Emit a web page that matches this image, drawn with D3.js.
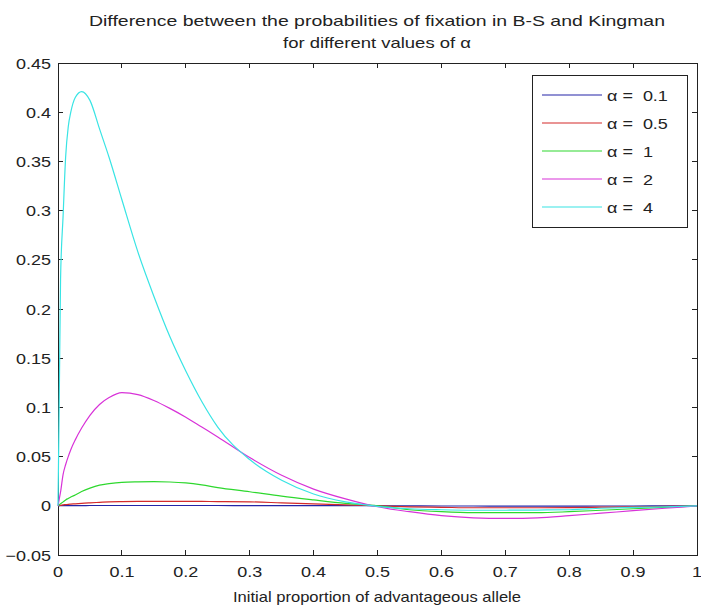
<!DOCTYPE html>
<html>
<head>
<meta charset="utf-8">
<script src="https://cdn.jsdelivr.net/npm/d3@7"></script>
<style>
  html, body { margin: 0; padding: 0; background: #fff; }
  svg { display: block; }
  text { font-family: "Liberation Sans", Arial, Helvetica, sans-serif; fill: #222; }
</style>
</head>
<body>
<svg id="chart" width="701" height="607"></svg>
<script>
/* ---------- Data ---------- */
const xGrid = [0, 0.002, 0.004, 0.008, 0.012, 0.016, 0.02, 0.027, 0.037, 0.05, 0.065, 0.08,
  0.1, 0.125, 0.15, 0.175, 0.2, 0.225, 0.25, 0.3, 0.35, 0.4, 0.45, 0.5,
  0.55, 0.6, 0.65, 0.7, 0.75, 0.8, 0.85, 0.9, 0.95, 1.0];

const alpha01 = [0, 0, 0.0001, 0.0001, 0.0001, 0.0002, 0.0002, 0.0002, 0.0002, 0.0003, 0.0003, 0.0003,
  0.0003, 0.0003, 0.0003, 0.0003, 0.0003, 0.0003, 0.0003, 0.0002, 0.0002, 0.0001, 0.0001, 0,
  -0.0001, -0.0002, -0.0002, -0.0003, -0.0003, -0.0003, -0.0002, -0.0002, -0.0001, 0];

const alpha05 = [0, 0.0003, 0.0005, 0.001, 0.0012, 0.0015, 0.0017, 0.002, 0.0025, 0.003, 0.0035, 0.004,
  0.0043, 0.0045, 0.0045, 0.0045, 0.0045, 0.0044, 0.0043, 0.004, 0.003, 0.002, 0.001, 0,
  -0.001, -0.0015, -0.002, -0.002, -0.002, -0.0018, -0.0014, -0.001, -0.0005, 0];

const alpha1 = [0, 0.001, 0.002, 0.004, 0.006, 0.0075, 0.009, 0.011, 0.0145, 0.018, 0.021, 0.0225,
  0.0238, 0.0243, 0.0245, 0.0242, 0.0232, 0.0212, 0.0185, 0.0143, 0.0098, 0.0060, 0.0025, 0,
  -0.004, -0.006, -0.007, -0.007, -0.007, -0.006, -0.0045, -0.003, -0.0015, 0];

const alpha2 = [0, 0.007, 0.014, 0.032, 0.042, 0.050, 0.057, 0.067, 0.079, 0.092, 0.103, 0.110,
  0.115, 0.113, 0.107, 0.099, 0.090, 0.080, 0.070, 0.049, 0.031, 0.017, 0.007, -0.001,
  -0.006, -0.010, -0.0122, -0.0128, -0.0122, -0.010, -0.0075, -0.005, -0.0025, 0];

const alpha4 = [0, 0.11, 0.23, 0.295, 0.355, 0.385, 0.400, 0.415, 0.421, 0.412, 0.383, 0.354,
  0.311, 0.258, 0.213, 0.172, 0.137, 0.106, 0.080, 0.047, 0.026, 0.012, 0.004, -0.0005,
  -0.003, -0.004, -0.0045, -0.0045, -0.0043, -0.004, -0.0025, -0.0015, -0.001, 0];

const seriesNames = ['\u03b1 =  0.1', '\u03b1 =  0.5', '\u03b1 =  1', '\u03b1 =  2', '\u03b1 =  4'];
const seriesValues = [alpha01, alpha05, alpha1, alpha2, alpha4];
const seriesColors = ['#2424a8', '#d42a2a', '#2ed82e', '#d832d8', '#38e4e4'];

const xTicks = [0, 0.1, 0.2, 0.3, 0.4, 0.5, 0.6, 0.7, 0.8, 0.9, 1];
const yTicks = [-0.05, 0, 0.05, 0.1, 0.15, 0.2, 0.25, 0.3, 0.35, 0.4, 0.45];

const titleLines = ['Difference between the probabilities of fixation in B-S and Kingman',
  'for different values of \u03b1'];
const xLabel = 'Initial proportion of advantageous allele';

/* ---------- Layout ---------- */
const svg = d3.select('#chart');
const plot = { left: 58, right: 697, top: 63, bottom: 555 };
const fontSize = 15;
const stretch = 1.2;   // reference text is horizontally wide

const x = d3.scaleLinear().domain([0, 1]).range([plot.left, plot.right]);
const y = d3.scaleLinear().domain([-0.05, 0.45]).range([plot.bottom, plot.top]);

// stretched text helper
function label(g, tx, ty, str, anchor) {
  return g.append('text')
    .attr('transform', `translate(${tx},${ty}) scale(${stretch},1)`)
    .attr('text-anchor', anchor)
    .attr('font-size', fontSize)
    .style('white-space', 'pre')
    .text(str);
}

// ---------- Title ----------
svg.append('text')
  .attr('x', 377).attr('y', 26)
  .attr('text-anchor', 'middle')
  .attr('font-size', fontSize)
  .attr('textLength', 576).attr('lengthAdjust', 'spacingAndGlyphs')
  .text(titleLines[0]);
svg.append('text')
  .attr('x', 377).attr('y', 48)
  .attr('text-anchor', 'middle')
  .attr('font-size', fontSize)
  .attr('textLength', 188).attr('lengthAdjust', 'spacingAndGlyphs')
  .text(titleLines[1]);

// ---------- Axes (MATLAB box, ticks inward) ----------
const axisG = svg.append('g').attr('stroke', '#222').attr('stroke-width', 1)
  .attr('shape-rendering', 'crispEdges');

axisG.append('rect')
  .attr('x', plot.left).attr('y', plot.top)
  .attr('width', plot.right - plot.left).attr('height', plot.bottom - plot.top)
  .attr('fill', 'none');

const tl = 5;
xTicks.forEach(t => {
  axisG.append('line').attr('x1', x(t)).attr('x2', x(t)).attr('y1', plot.bottom).attr('y2', plot.bottom - tl);
  axisG.append('line').attr('x1', x(t)).attr('x2', x(t)).attr('y1', plot.top).attr('y2', plot.top + tl);
});
yTicks.forEach(t => {
  axisG.append('line').attr('x1', plot.left).attr('x2', plot.left + tl).attr('y1', y(t)).attr('y2', y(t));
  axisG.append('line').attr('x1', plot.right).attr('x2', plot.right - tl).attr('y1', y(t)).attr('y2', y(t));
});

const tickG = svg.append('g');
xTicks.forEach(t => label(tickG, x(t), 577, d3.format('')(t), 'middle'));
yTicks.forEach(t => label(tickG, plot.left - 7, y(t) + 5.5, d3.format('')(t), 'end'));

svg.append('text')
  .attr('x', 377).attr('y', 602)
  .attr('text-anchor', 'middle')
  .attr('font-size', fontSize)
  .attr('textLength', 288).attr('lengthAdjust', 'spacingAndGlyphs')
  .text(xLabel);

// ---------- Lines ----------
const line = d3.line()
  .x((d, i) => x(xGrid[i]))
  .y(d => y(d))
  .curve(d3.curveMonotoneX);

svg.append('g').selectAll('path')
  .data(seriesValues)
  .join('path')
  .attr('d', d => line(d))
  .attr('fill', 'none')
  .attr('stroke', (d, i) => seriesColors[i])
  .attr('stroke-width', 1.2);

// ---------- Legend ----------
const legend = svg.append('g');
legend.append('rect')
  .attr('x', 532).attr('y', 75).attr('width', 155).attr('height', 152)
  .attr('fill', '#fff').attr('stroke', '#222').attr('stroke-width', 1)
  .attr('shape-rendering', 'crispEdges');

const rowY = d3.scalePoint().domain(d3.range(seriesNames.length)).range([95, 207]);
seriesNames.forEach((name, i) => {
  legend.append('line')
    .attr('x1', 542).attr('x2', 602)
    .attr('y1', rowY(i)).attr('y2', rowY(i))
    .attr('stroke', seriesColors[i]).attr('stroke-width', 1.2);
  label(legend, 607, rowY(i) + 5.5, name, 'start');
});
</script>
</body>
</html>
